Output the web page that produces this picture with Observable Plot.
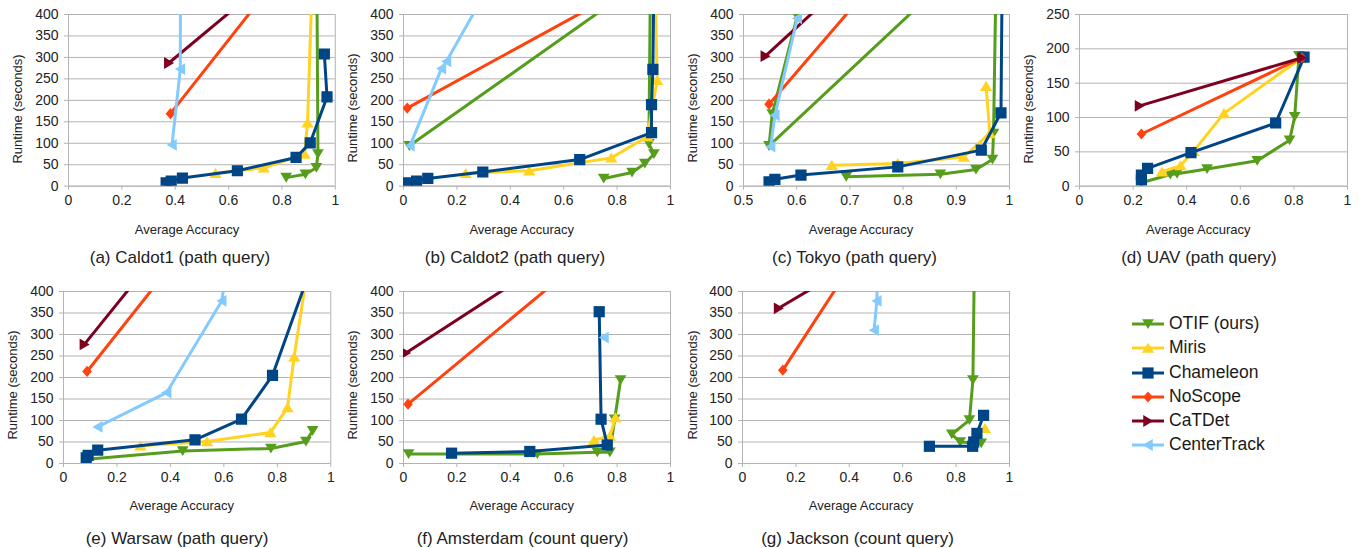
<!DOCTYPE html>
<html><head><meta charset="utf-8">
<script src="https://cdn.jsdelivr.net/npm/d3@7"></script>
<script src="https://cdn.jsdelivr.net/npm/@observablehq/plot@0.6"></script>
<style>
body{margin:0;background:#fff;font-family:"Liberation Sans",Arial,sans-serif;}
#root{position:relative;width:1359px;height:548px;overflow:hidden;background:#fff;}
.abs{position:absolute;white-space:nowrap;color:#222;line-height:1;}
svg.plotsvg{position:absolute;overflow:visible;}
</style></head><body><div id="root"></div>
<script>
// ---------- data ----------
const methods = ["OTIF (ours)", "Miris", "Chameleon", "NoScope", "CaTDet", "CenterTrack"];

const xTicksFull = [0, 0.2, 0.4, 0.6, 0.8, 1];
const xTicksTokyo = [0.5, 0.6, 0.7, 0.8, 0.9, 1];
const yTicks400 = [0, 50, 100, 150, 200, 250, 300, 350, 400];
const yTicks250 = [0, 50, 100, 150, 200, 250];

// [method, average accuracy, runtime (s)]
const caldot1 = [
  ["OTIF (ours)",0.816,20],["OTIF (ours)",0.888,28],["OTIF (ours)",0.929,43],["OTIF (ours)",0.935,75],["OTIF (ours)",0.93,590],
  ["Miris",0.551,30],["Miris",0.732,43],["Miris",0.885,75],["Miris",0.896,148],["Miris",0.912,450],
  ["Chameleon",0.366,8],["Chameleon",0.385,12],["Chameleon",0.427,19],["Chameleon",0.633,36],["Chameleon",0.853,67],["Chameleon",0.906,101],["Chameleon",0.969,208],["Chameleon",0.959,308],
  ["NoScope",0.382,169],["NoScope",0.93,601],
  ["CaTDet",0.376,287],["CaTDet",0.93,574],
  ["CenterTrack",0.388,96],["CenterTrack",0.419,273],["CenterTrack",0.42,600]
];
const caldot2 = [
  ["OTIF (ours)",0.75,18],["OTIF (ours)",0.856,32],["OTIF (ours)",0.904,53],["OTIF (ours)",0.938,75],["OTIF (ours)",0.919,99],["OTIF (ours)",0.925,490],["OTIF (ours)",0.022,94],
  ["Miris",0.233,30],["Miris",0.471,36],["Miris",0.778,66],["Miris",0.913,115],["Miris",0.950,247],["Miris",0.942,490],
  ["Chameleon",0.014,8],["Chameleon",0.049,12],["Chameleon",0.091,18],["Chameleon",0.297,33],["Chameleon",0.660,62],["Chameleon",0.929,125],["Chameleon",0.929,190],["Chameleon",0.934,272],["Chameleon",0.938,490],
  ["NoScope",0.014,182],["NoScope",0.925,492],
  ["CenterTrack",0.024,94],["CenterTrack",0.142,274],["CenterTrack",0.161,291],["CenterTrack",0.35,499]
];
const tokyo = [
  ["OTIF (ours)",0.693,22],["OTIF (ours)",0.870,28],["OTIF (ours)",0.937,39],["OTIF (ours)",0.968,62],["OTIF (ours)",0.970,123],["OTIF (ours)",0.976,590],["OTIF (ours)",0.548,94],["OTIF (ours)",0.554,168],["OTIF (ours)",0.601,396],
  ["Miris",0.666,49],["Miris",0.790,53],["Miris",0.914,68],["Miris",0.963,123],["Miris",0.956,233],
  ["Chameleon",0.548,10],["Chameleon",0.559,16],["Chameleon",0.608,26],["Chameleon",0.790,45],["Chameleon",0.947,84],["Chameleon",0.984,171],["Chameleon",0.987,600],
  ["NoScope",0.548,191],["NoScope",0.75,482],
  ["CaTDet",0.541,303],["CaTDet",0.7,484],
  ["CenterTrack",0.551,92],["CenterTrack",0.559,165],["CenterTrack",0.601,391]
];
const uav = [
  ["OTIF (ours)",0.231,5],["OTIF (ours)",0.339,17],["OTIF (ours)",0.364,18],["OTIF (ours)",0.476,25],["OTIF (ours)",0.663,37],["OTIF (ours)",0.784,67],["OTIF (ours)",0.803,101],["OTIF (ours)",0.819,190],
  ["Miris",0.308,21],["Miris",0.377,30],["Miris",0.426,51],["Miris",0.539,106],["Miris",0.825,186],
  ["Chameleon",0.231,9],["Chameleon",0.231,16],["Chameleon",0.254,26],["Chameleon",0.416,49],["Chameleon",0.732,92],["Chameleon",0.838,188],
  ["NoScope",0.231,76],["NoScope",0.830,187],
  ["CaTDet",0.224,117],["CaTDet",0.830,187]
];
const warsaw = [
  ["OTIF (ours)",0.088,10],["OTIF (ours)",0.446,29],["OTIF (ours)",0.776,35],["OTIF (ours)",0.907,51],["OTIF (ours)",0.932,76],
  ["Miris",0.288,41],["Miris",0.537,51],["Miris",0.774,72],["Miris",0.838,130],["Miris",0.863,248],["Miris",0.925,500],
  ["Chameleon",0.085,13],["Chameleon",0.092,19],["Chameleon",0.128,31],["Chameleon",0.492,55],["Chameleon",0.666,103],["Chameleon",0.782,205],["Chameleon",0.92,445],
  ["NoScope",0.088,214],["NoScope",0.5,537],
  ["CaTDet",0.078,277],["CaTDet",0.4,525],
  ["CenterTrack",0.128,85],["CenterTrack",0.386,165],["CenterTrack",0.592,378],["CenterTrack",0.61,450]
];
const amsterdam = [
  ["OTIF (ours)",0.019,22],["OTIF (ours)",0.501,22],["OTIF (ours)",0.726,26],["OTIF (ours)",0.773,26],["OTIF (ours)",0.791,103],["OTIF (ours)",0.813,194],
  ["Miris",0.713,54],["Miris",0.773,64],["Miris",0.794,107],
  ["Chameleon",0.180,24],["Chameleon",0.473,28],["Chameleon",0.763,43],["Chameleon",0.740,103],["Chameleon",0.733,353],
  ["NoScope",0.017,138],["NoScope",0.8,541],
  ["CaTDet",0.009,257],["CaTDet",0.7,535],
  ["CenterTrack",0.751,293]
];
const jackson = [
  ["OTIF (ours)",0.894,47],["OTIF (ours)",0.815,50],["OTIF (ours)",0.784,68],["OTIF (ours)",0.850,101],["OTIF (ours)",0.863,194],["OTIF (ours)",0.871,600],
  ["Miris",0.908,82],
  ["Chameleon",0.700,40],["Chameleon",0.862,40],["Chameleon",0.866,50],["Chameleon",0.878,70],["Chameleon",0.903,112],
  ["NoScope",0.151,217],["NoScope",0.5,550],
  ["CaTDet",0.135,361],["CaTDet",0.5,495],
  ["CenterTrack",0.493,310],["CenterTrack",0.503,378],["CenterTrack",0.505,450]
];

// ---------- styles ----------
const colors = ["#579d1c", "#ffd320", "#004586", "#ff420e", "#7e0021", "#83caff"];
function poly(pts) {
  return {draw(ctx, size) {
    const r = Math.sqrt(size / Math.PI);
    ctx.moveTo(pts[0][0] * r, pts[0][1] * r);
    for (let k = 1; k < pts.length; k++) ctx.lineTo(pts[k][0] * r, pts[k][1] * r);
    ctx.closePath();
  }};
}
const symbols = [
  poly([[0, 0.9], [-1.05, -0.85], [1.05, -0.85]]),      // down triangle
  poly([[0, -0.95], [1.1, 0.85], [-1.1, 0.85]]),        // up triangle
  poly([[-1, -1], [1, -1], [1, 1], [-1, 1]]),           // square
  poly([[0, -1], [0.85, 0], [0, 1], [-0.85, 0]]),       // diamond
  poly([[0.95, 0], [-0.85, -1.05], [-0.85, 1.05]]),     // right triangle
  poly([[-0.95, 0], [0.85, -1.05], [0.85, 1.05]])       // left triangle
];
const markerR = 5.6;

const panels = [
  {data: caldot1, caption: "(a) Caldot1 (path query)", x0: 67.7, x1: 334.5, top: 14.3, bottom: 186, xd: [0, 1], xt: xTicksFull, yd: [0, 400], yt: yTicks400, xtl: [187, 229], cap: [180, 257], ytl: [17, 109]},
  {data: caldot2, caption: "(b) Caldot2 (path query)", x0: 403, x1: 670, top: 14.3, bottom: 186, xd: [0, 1], xt: xTicksFull, yd: [0, 400], yt: yTicks400, xtl: [521.7, 229], cap: [515, 257], ytl: [352, 108]},
  {data: tokyo, caption: "(c) Tokyo (path query)", x0: 743, x1: 1009, top: 14.3, bottom: 186, xd: [0.5, 1], xt: xTicksTokyo, yd: [0, 400], yt: yTicks400, xtl: [861, 229], cap: [854.5, 257], ytl: [692, 108]},
  {data: uav, caption: "(d) UAV (path query)", x0: 1079, x1: 1347, top: 14.3, bottom: 186, xd: [0, 1], xt: xTicksFull, yd: [0, 250], yt: yTicks250, xtl: [1198.3, 229], cap: [1199, 257], ytl: [1028, 109]},
  {data: warsaw, caption: "(e) Warsaw (path query)", x0: 62.7, x1: 330, top: 290.7, bottom: 462.7, xd: [0, 1], xt: xTicksFull, yd: [0, 400], yt: yTicks400, xtl: [181.7, 505], cap: [177, 538], ytl: [12.3, 385]},
  {data: amsterdam, caption: "(f) Amsterdam (count query)", x0: 403, x1: 670, top: 290.7, bottom: 462.7, xd: [0, 1], xt: xTicksFull, yd: [0, 400], yt: yTicks400, xtl: [521.7, 505], cap: [522.5, 538], ytl: [352, 385]},
  {data: jackson, caption: "(g) Jackson (count query)", x0: 742, x1: 1009, top: 290.7, bottom: 462.7, xd: [0, 1], xt: xTicksFull, yd: [0, 400], yt: yTicks400, xtl: [861, 505], cap: [857.5, 538], ytl: [692, 385]}
];

const root = document.getElementById("root");
const grid = "#b3b3b3";

function addText(txt, cx, cy, size, rotate) {
  const d = document.createElement("div");
  d.className = "abs";
  d.textContent = txt;
  d.style.left = cx + "px";
  d.style.top = cy + "px";
  d.style.fontSize = size + "px";
  d.style.transform = "translate(-50%,-50%)" + (rotate ? " rotate(-90deg)" : "");
  root.appendChild(d);
}

panels.forEach(p => {
  const mL = 45, mR = 12, mT = 10, mB = 28;
  const w = p.x1 - p.x0 + mL + mR, h = p.bottom - p.top + mT + mB;
  const marks = [
    Plot.gridY({ticks: p.yt, stroke: grid, strokeOpacity: 1, strokeWidth: 1}),
    Plot.ruleX([p.xd[1]], {stroke: grid, strokeWidth: 1}),
    Plot.ruleX([p.xd[0]], {stroke: grid, strokeWidth: 1}),
    Plot.ruleY([0], {stroke: grid, strokeWidth: 1}),
    Plot.axisX({ticks: p.xt, tickSize: 4, tickPadding: 5, tickFormat: d => String(d), stroke: grid, fill: "#222", label: null}),
    Plot.axisY({ticks: p.yt, tickSize: 4, tickPadding: 6, tickFormat: d => String(d), stroke: grid, fill: "#222", label: null})
  ];
  methods.forEach((m, i) => {
    const rows = p.data.filter(d => d[0] === m);
    if (!rows.length) return;
    marks.push(Plot.line(rows, {x: d => d[1], y: d => d[2], stroke: colors[i], strokeWidth: 3, clip: true}));
    marks.push(Plot.dot(rows, {x: d => d[1], y: d => d[2], fill: colors[i], stroke: "none", symbol: symbols[i], r: markerR, clip: true}));
  });
  const svg = Plot.plot({
    width: w, height: h, marginLeft: mL, marginRight: mR, marginTop: mT, marginBottom: mB,
    x: {domain: p.xd}, y: {domain: p.yd},
    style: {fontSize: "14px", fontFamily: "'Liberation Sans', Arial, sans-serif", background: "transparent", overflow: "visible"},
    marks
  });
  svg.classList.add("plotsvg");
  svg.style.position = "absolute";
  svg.style.left = (p.x0 - mL) + "px";
  svg.style.top = (p.top - mT) + "px";
  svg.style.maxWidth = "none";
  root.appendChild(svg);
  addText("Average Accuracy", p.xtl[0], p.xtl[1], 13);
  addText("Runtime (seconds)", p.ytl[0], p.ytl[1], 13, true);
  addText(p.caption, p.cap[0], p.cap[1], 17);
});

// legend
const legendRows = [324, 348, 373, 397, 421, 445];
methods.forEach((m, i) => {
  const ns = "http://www.w3.org/2000/svg";
  const s = document.createElementNS(ns, "svg");
  s.setAttribute("width", 34); s.setAttribute("height", 14);
  s.style.position = "absolute";
  s.style.left = "1131px";
  s.style.top = (legendRows[i] - 7) + "px";
  const ln = document.createElementNS(ns, "line");
  ln.setAttribute("x1", 1); ln.setAttribute("x2", 33); ln.setAttribute("y1", 7); ln.setAttribute("y2", 7);
  ln.setAttribute("stroke", colors[i]); ln.setAttribute("stroke-width", 3);
  s.appendChild(ln);
  const pth = d3.path();
  symbols[i].draw(pth, markerR * markerR * Math.PI);
  const pe = document.createElementNS(ns, "path");
  pe.setAttribute("d", pth.toString());
  pe.setAttribute("transform", "translate(17,7)");
  pe.setAttribute("fill", colors[i]);
  s.appendChild(pe);
  root.appendChild(s);
  const t = document.createElement("div");
  t.className = "abs";
  t.textContent = m;
  t.style.left = "1169px";
  t.style.top = legendRows[i] + "px";
  t.style.fontSize = "17.5px";
  t.style.transform = "translateY(-50%)";
  t.style.color = "#1a1a1a";
  root.appendChild(t);
});
</script>
</body></html>
